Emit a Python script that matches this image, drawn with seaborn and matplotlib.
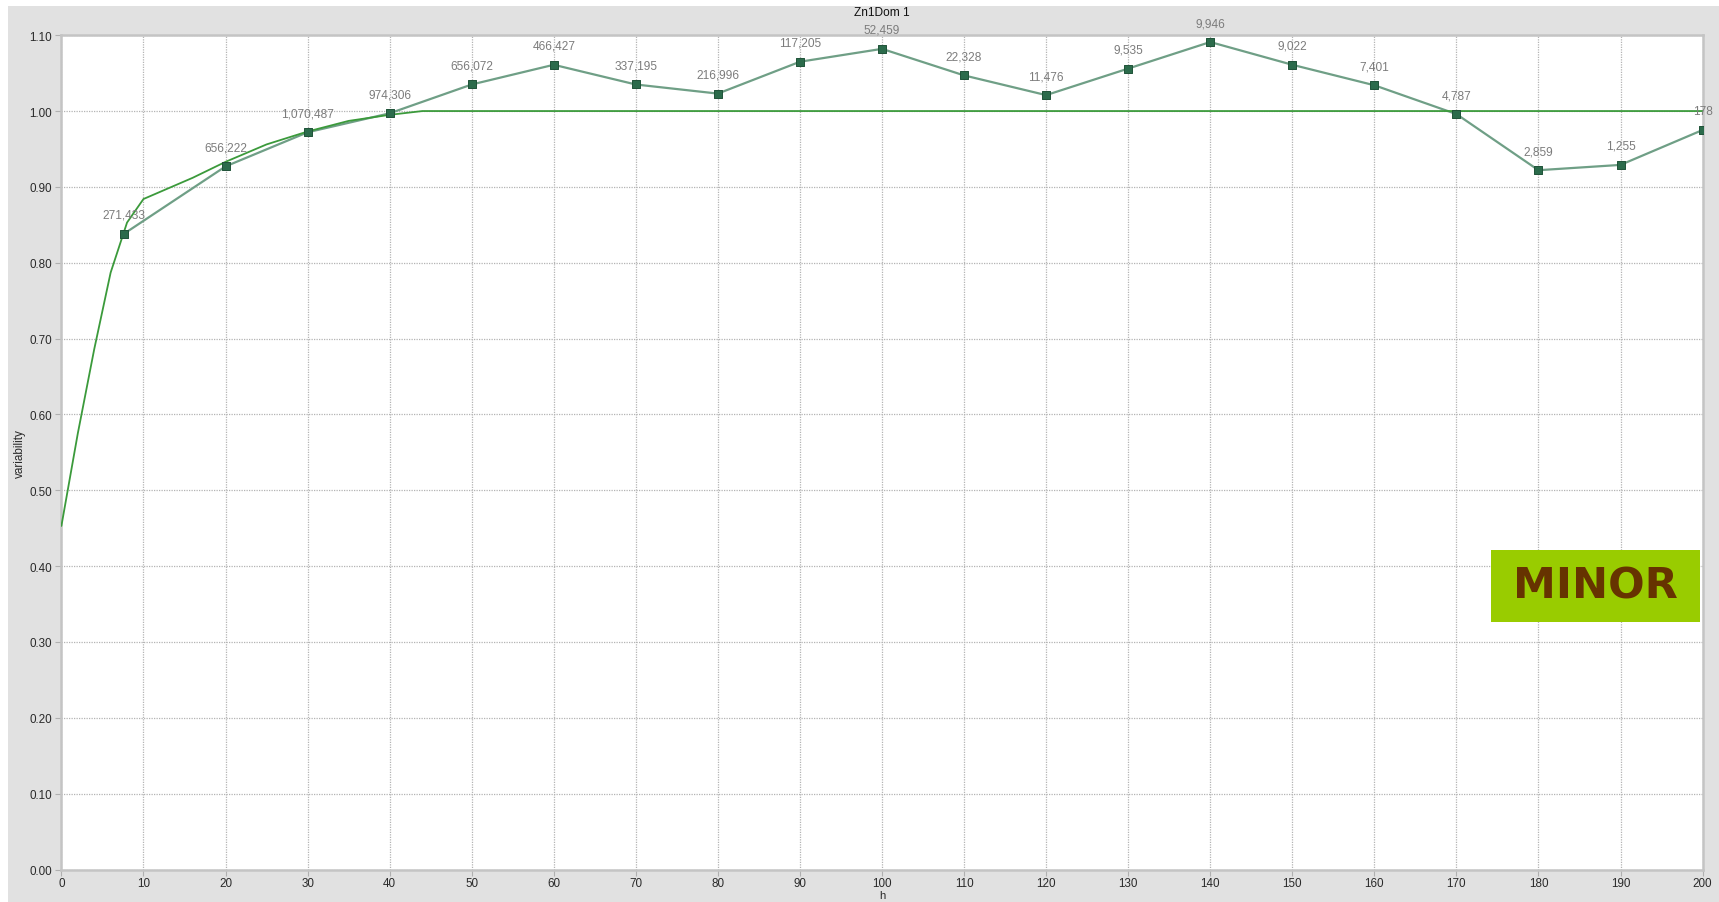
import matplotlib
matplotlib.use("Agg")
import matplotlib.pyplot as plt
from matplotlib.patches import Rectangle
import pandas as pd
import seaborn as sns

# Experimental variogram: lag distance, variability, number of pairs
lag_h = [7.6, 20, 30, 40, 50, 60, 70, 80, 90, 100, 110, 120, 130, 140, 150, 160, 170, 180, 190, 200]
lag_gamma = [0.838, 0.927, 0.972, 0.997, 1.035, 1.061, 1.035, 1.023, 1.065, 1.082,
             1.047, 1.021, 1.056, 1.091, 1.061, 1.034, 0.996, 0.922, 0.929, 0.975]
lag_pairs = [271433, 656222, 1070487, 974306, 656072, 466427, 337195, 216996, 117205, 52459,
             22328, 11476, 9535, 9946, 9022, 7401, 4787, 2859, 1255, 178]

# Fitted model curve vertices
model_h = [0, 2, 4, 6, 8, 10, 16, 20, 25, 30, 35, 40, 44, 200]
model_gamma = [0.453, 0.575, 0.686, 0.787, 0.853, 0.884, 0.912, 0.933, 0.956, 0.973,
               0.987, 0.995, 1.0, 1.0]

x_ticks = list(range(0, 201, 10))
y_ticks = [round(0.1 * i, 2) for i in range(12)]

title = "Zn1Dom 1"
x_label = "h"
y_label = "variability"
stamp = "MINOR"

exp_df = pd.DataFrame({"h": lag_h, "gamma": lag_gamma, "pairs": lag_pairs})
model_df = pd.DataFrame({"h": model_h, "gamma": model_gamma})

sns.set_style("white")
plt.rcParams["font.family"] = ["Liberation Sans", "DejaVu Sans"]

W, H = 1719, 903
fig = plt.figure(figsize=(W / 100, H / 100), dpi=100)
fig.patch.set_facecolor("white")
fig.patches.append(Rectangle((8 / W, 0), 1 - 8 / W, 1 - 7 / H, transform=fig.transFigure,
                             facecolor="#e1e1e1", edgecolor="none", zorder=-10))

left, right, top, bottom = 61.4, 1702.6, 36.2, 870.5
ax = fig.add_axes([left / W, (H - bottom) / H, (right - left) / W, (bottom - top) / H])
ax.set_facecolor("white")

sns.lineplot(data=exp_df, x="h", y="gamma", ax=ax, color="#6f9f86", lw=1.6,
             sort=False, estimator=None, zorder=2)
sns.lineplot(data=model_df, x="h", y="gamma", ax=ax, color="#3b9a3b", lw=1.3,
             sort=False, estimator=None, zorder=3)
sns.scatterplot(data=exp_df, x="h", y="gamma", ax=ax, marker="s", s=27,
                color="#2b6b4b", edgecolor="#1f5238", linewidth=0.7, zorder=4)

for h, g, n in zip(lag_h, lag_gamma, lag_pairs):
    ax.annotate(f"{n:,}", (h, g), xytext=(0, 19), textcoords="offset pixels",
                ha="center", va="center", fontsize=8.6, color="#7c7c7c",
                annotation_clip=False, zorder=5)

ax.set_xlim(0, 200)
ax.set_ylim(0, 1.1)
ax.set_xticks(x_ticks)
ax.set_yticks(y_ticks)
ax.set_yticklabels([f"{v:.2f}" for v in y_ticks])
ax.tick_params(axis="both", which="both", length=4, width=0.8, color="#b0b0b0",
               labelsize=8.4, labelcolor="#2a2a2a", pad=1.5, direction="out",
               left=True, bottom=True)
ax.tick_params(axis="y", pad=3)
ax.grid(True, which="major", color="#b4b4b4", linestyle=(0, (1, 1)), linewidth=0.9)
ax.set_axisbelow(True)
for sp in ax.spines.values():
    sp.set_color("#c4c4c4")
    sp.set_linewidth(1.8)

ax.set_xlabel(x_label, fontsize=8.2, color="#2a2a2a", va="center")
ax.set_ylabel(y_label, fontsize=8.5, color="#2a2a2a", va="center")
ax.xaxis.set_label_coords(0.5, -(896.5 - bottom) / (bottom - top))
ax.yaxis.set_label_coords(-(left - 20) / (right - left), 0.5)
fig.text((left + right) / 2 / W, 1 - 13.5 / H, title, ha="center", va="center",
         fontsize=8.6, color="#111111")

# Classification stamp in the lower-right part of the plot
bx0, by0, bx1, by1 = 1491, 551, 1700, 623
fig.patches.append(Rectangle((bx0 / W, 1 - by1 / H), (bx1 - bx0) / W, (by1 - by0) / H,
                             transform=fig.transFigure, facecolor="#99cc00",
                             edgecolor="none", zorder=20))
fig.text((bx0 + bx1) / 2 / W, 1 - (by0 + by1) / 2 / H, stamp, ha="center", va="center",
         fontsize=31, fontweight="bold", color="#663300", family="DejaVu Sans", zorder=21)

fig.savefig("out.png", dpi=100)
